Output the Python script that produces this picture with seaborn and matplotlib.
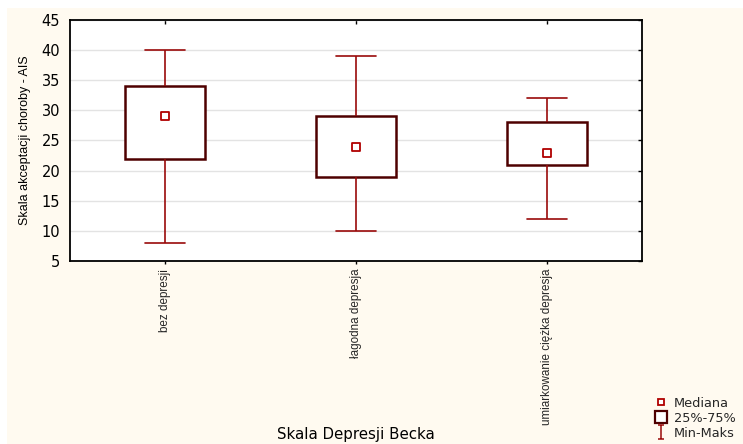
import matplotlib
matplotlib.use("Agg")
import matplotlib.pyplot as plt
import pandas as pd
import seaborn as sns
from matplotlib.lines import Line2D
from matplotlib.patches import Rectangle
from matplotlib.path import Path

# Summary statistics per Beck Depression Inventory group (AIS scores)
categories = ["bez depresji", "łagodna depresja", "umiarkowanie ciężka depresja"]
mins = [8, 10, 12]
q1s = [22, 19, 21]
medians = [29, 24, 23]
q3s = [34, 29, 28]
maxs = [40, 39, 32]
y_ticks = [5, 10, 15, 20, 25, 30, 35, 40, 45]
legend_labels = ["Mediana", "25%-75%", "Min-Maks"]

CREAM = "#FFFAF0"
BOX = "#4E0000"
WHISK = "#9A0A0A"
MED = "#B00000"
GRID = "#E3E3E3"

# Five values per group reproduce min / quartiles / median / max exactly
rows = []
for cat, lo, a, m, b, hi in zip(categories, mins, q1s, medians, q3s, maxs):
    for v in (lo, a, m, b, hi):
        rows.append({"grupa": cat, "AIS": v})
df = pd.DataFrame(rows)

sns.set_theme(style="white")
plt.rcParams["font.family"] = ["DejaVu Sans"]

W, H = 743, 444
fig = plt.figure(figsize=(W / 100, H / 100), dpi=100, facecolor="white")
fig.patches.append(Rectangle((7 / W, 0), 1, 1 - 8 / H, transform=fig.transFigure,
                             facecolor=CREAM, edgecolor="none", zorder=-10))
ax = fig.add_axes([70 / W, 1 - 261 / H, 572 / W, 241 / H])
ax.set_facecolor("white")

sns.boxplot(data=df, x="grupa", y="AIS", order=categories, whis=(0, 100),
            width=0.42, color="white", saturation=1, linecolor=BOX,
            showfliers=False, ax=ax,
            boxprops=dict(facecolor="white", edgecolor=BOX, linewidth=1.8),
            whiskerprops=dict(color=WHISK, linewidth=1.2),
            capprops=dict(color=WHISK, linewidth=1.2),
            medianprops=dict(visible=False))

sns.scatterplot(x=categories, y=medians, marker="s", s=26, color="white",
                edgecolor=MED, linewidth=1.3, ax=ax, zorder=5)

ax.set_xlim(-0.5, 2.5)
ax.set_ylim(5, 45)
ax.set_yticks(y_ticks)
ax.yaxis.grid(True, color=GRID, linewidth=1)
ax.set_axisbelow(True)

for s in ax.spines.values():
    s.set_color("black")
    s.set_linewidth(1.3)
    s.set_visible(True)

ax.tick_params(axis="y", left=False, right=True, direction="in", length=3,
               width=1, color="black", labelsize=10.5, pad=7, labelcolor="black")
ax.tick_params(axis="x", bottom=True, top=False, direction="out", length=2.5,
               width=1, color="black", pad=3)
top = ax.secondary_xaxis("top")
top.set_xticks([0, 1, 2], labels=["", "", ""])
top.tick_params(direction="in", length=3, width=1, color="black")
top.spines["top"].set_visible(False)

for lbl in ax.get_xticklabels():
    lbl.set_rotation(90)
    lbl.set_fontfamily("Liberation Sans")
    lbl.set_fontsize(8.4)
    lbl.set_va("top")
    lbl.set_ha("center")

ax.set_xlabel("Skala Depresji Becka", fontsize=10.8, color="black")
ax.xaxis.set_label_coords(0.5, -0.69)
ax.set_ylabel("Skala akceptacji choroby - AIS", fontsize=9,
              fontfamily="Liberation Sans", color="black")
ax.yaxis.set_label_coords(-0.068, 0.5)

ibeam = Path([(-0.45, 1), (0.45, 1), (0, 1), (0, -1), (-0.45, -1), (0.45, -1)],
             [Path.MOVETO, Path.LINETO, Path.MOVETO, Path.LINETO, Path.MOVETO, Path.LINETO])
handles = [
    Line2D([], [], ls="none", marker="s", markersize=4.5, mfc="white", mec=MED, mew=1.3),
    Line2D([], [], ls="none", marker="s", markersize=8.5, mfc="white", mec=BOX, mew=1.6),
    Line2D([], [], ls="none", marker=ibeam, markersize=10, mfc="none", mec=WHISK, mew=1.1),
]
fig.legend(handles, legend_labels, loc="upper left",
           bbox_to_anchor=(655 / W, 1 - 397 / H), frameon=False, fontsize=9.3,
           handlelength=1.0, handletextpad=0.45, labelspacing=0.15,
           borderpad=0, borderaxespad=0)

fig.savefig("out.png", dpi=100, facecolor=fig.get_facecolor())
